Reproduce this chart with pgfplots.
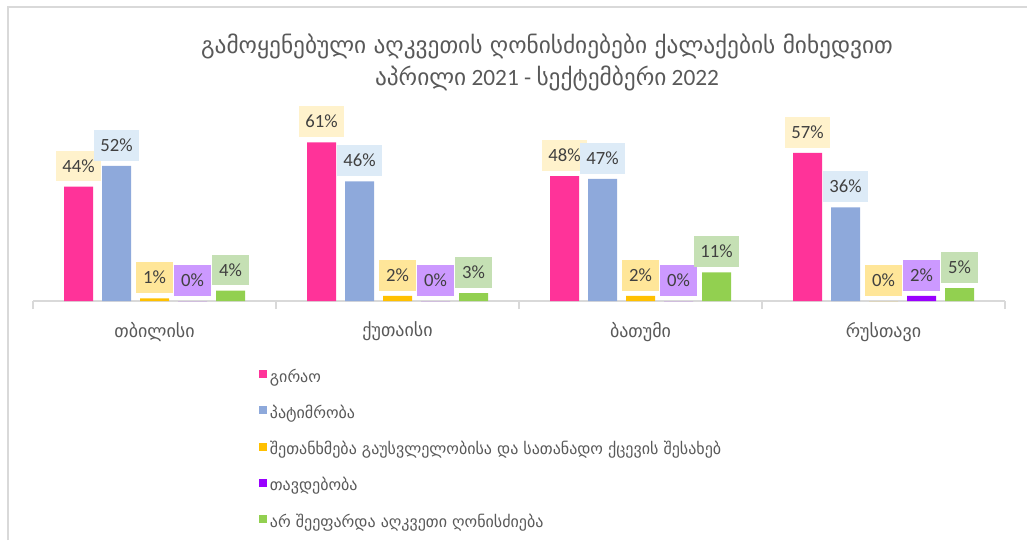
\documentclass[border=0pt]{standalone}
\usepackage{pgfplots}
\pgfplotsset{compat=1.18}
\usepackage{fontspec}
\setmainfont{Carlito}
\newfontfamily\geo{DejaVu Sans}

\definecolor{cpink}{HTML}{FF3399}
\definecolor{cblue}{HTML}{8EA9DB}
\definecolor{corange}{HTML}{FFC000}
\definecolor{cpurple}{HTML}{9900FF}
\definecolor{cgreen}{HTML}{92D050}
\definecolor{lpink}{HTML}{FFF2CC}
\definecolor{lblue}{HTML}{DDEBF7}
\definecolor{lorange}{HTML}{FFE699}
\definecolor{lpurple}{HTML}{CC99FF}
\definecolor{lgreen}{HTML}{C5E0B4}
\definecolor{txtgray}{HTML}{595959}
\definecolor{lbltxt}{HTML}{404040}
\definecolor{linegray}{HTML}{D9D9D9}

\begin{document}
\begin{tikzpicture}
\useasboundingbox (0,0) rectangle (770.25pt,405pt);
% chart frame (only top and left edge are inside the picture)
\draw[linegray, line width=1.1pt] (6pt,0pt) -- (6pt,399.75pt) -- (770.25pt,399.75pt);

\begin{axis}[
  at={(24.75pt,179.25pt)}, anchor=south west,
  scale only axis, width=729pt, height=136.5pt,
  ybar=6.75pt, bar width=21.75pt,
  xmin=-0.5, xmax=3.5, ymin=0, ymax=70,
  clip=false,
  axis x line*=bottom, hide y axis,
  axis line style={linegray, line width=1pt},
  xtick={0,1,2,3},
  xticklabels={თბილისი, ქუთაისი, ბათუმი, რუსთავი},
  xticklabel style={font=\geo\fontsize{13.5}{15}\selectfont, text=txtgray, anchor=center, yshift=-23pt},
  major tick length=0pt,
  minor xtick={-0.5,0.5,1.5,2.5,3.5},
  minor tick length=6pt,
  tick align=outside,
  minor tick style={linegray, line width=0.8pt},
  /pgf/number format/assume math mode=true,
  nodes near coords={\pgfmathprintnumber[fixed,precision=0]{\pgfplotspointmeta}\%},
  every node near coord/.append style={font=\fontsize{14}{14}\selectfont, text=lbltxt,
    anchor=south, yshift=3.75pt, inner xsep=5pt, inner ysep=7pt,
    text height=9pt, text depth=0pt},
  legend style={at={(axis description cs:0.2325,-0.36)}, anchor=north west,
    draw=none, fill=none, inner sep=0pt, row sep=11.5pt,
    font=\geo\fontsize{12}{14}\selectfont, text=txtgray},
  legend cell align=left,
  legend image code/.code={\fill[#1] (0pt,-1pt) rectangle (6pt,5pt);},
]
\addplot[fill=cpink, draw=none, every node near coord/.append style={fill=lpink}]
  coordinates {(0,44) (1,61) (2,48) (3,57)};
\addlegendentry{გირაო}
\addplot[fill=cblue, draw=none, every node near coord/.append style={fill=lblue}]
  coordinates {(0,52) (1,46) (2,47) (3,36)};
\addlegendentry{პატიმრობა}
\addplot[fill=corange, draw=none, every node near coord/.append style={fill=lorange}]
  coordinates {(0,1) (1,2) (2,2) (3,0)};
\addlegendentry{შეთანხმება გაუსვლელობისა და სათანადო ქცევის შესახებ}
\addplot[fill=cpurple, draw=none, every node near coord/.append style={fill=lpurple}]
  coordinates {(0,0) (1,0) (2,0) (3,2)};
\addlegendentry{თავდებობა}
\addplot[fill=cgreen, draw=none, every node near coord/.append style={fill=lgreen}]
  coordinates {(0,4) (1,3) (2,11) (3,5)};
\addlegendentry{არ შეეფარდა აღკვეთი ღონისძიება}
\end{axis}

\node[text=txtgray, font=\geo\fontsize{17.5}{20}\selectfont] at (410.25pt,370pt)
  {გამოყენებული აღკვეთის ღონისძიებები ქალაქების მიხედვით};
\node[text=txtgray, font=\fontsize{17.5}{20}\selectfont] at (410.25pt,346pt)
  {{\geo აპრილი} 2021 - {\geo სექტემბერი} 2022};
\end{tikzpicture}
\end{document}
